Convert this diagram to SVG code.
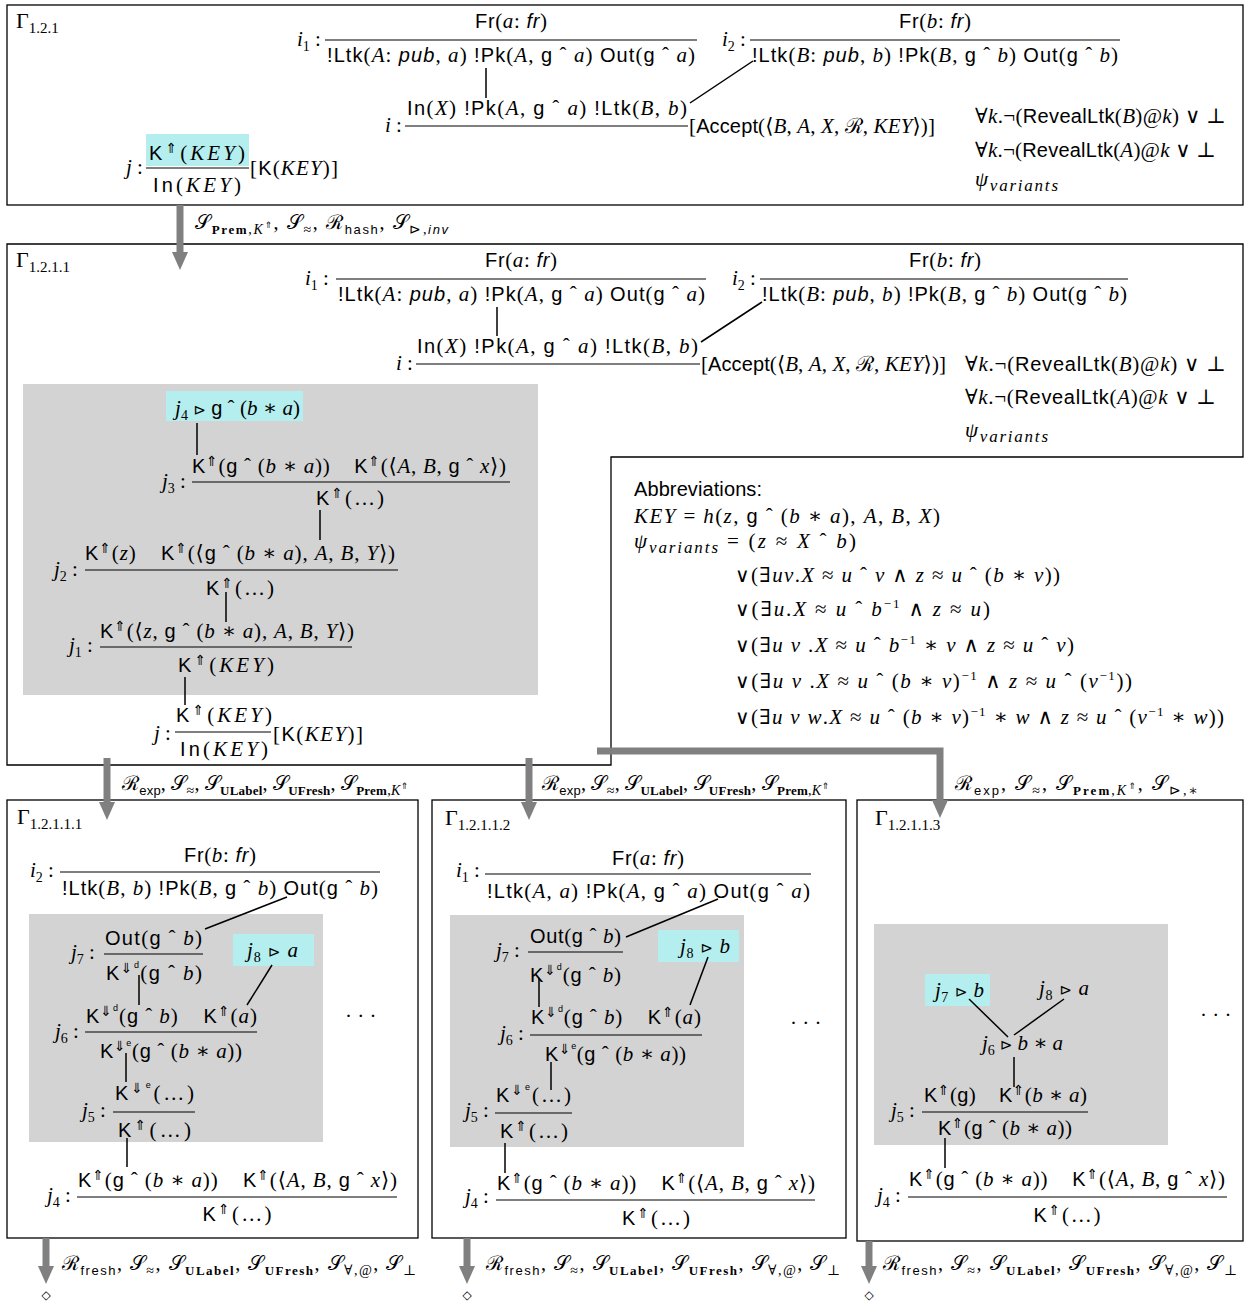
<svg xmlns="http://www.w3.org/2000/svg" width="1260" height="1302" viewBox="0 0 1260 1302">
<defs>
<style>
text{font-family:"Liberation Serif","DejaVu Serif",serif;font-size:21px;fill:#000}
.s{font-family:"Liberation Sans","DejaVu Sans",sans-serif;font-size:20px;font-style:normal}
.si{font-family:"Liberation Sans","DejaVu Sans",sans-serif;font-size:20px;font-style:italic}
.i{font-style:italic}
.g{font-size:22px}
.gsub{font-size:15px;baseline-shift:-5px}
.sub{font-size:14px;baseline-shift:-5px}
.subi{font-size:14px;baseline-shift:-5px;font-style:italic}
.vsub{font-size:17px;baseline-shift:-5px;font-style:italic}
.subs{font-family:"Liberation Sans",sans-serif;font-size:13px;baseline-shift:-5px}
.subsi{font-family:"Liberation Sans",sans-serif;font-size:13px;baseline-shift:-5px;font-style:italic}
.subb{font-size:13px;baseline-shift:-5px;font-weight:bold}
.subup{font-family:"DejaVu Sans",sans-serif;font-size:9px;baseline-shift:1px;fill:#000}
.up{font-family:"DejaVu Sans",sans-serif;font-size:14px;baseline-shift:7px;fill:#000}
.up2{font-family:"Liberation Sans",sans-serif;font-size:9px;baseline-shift:12px}
.sup{font-size:13px;baseline-shift:8px}
.tri{font-family:"DejaVu Sans",sans-serif;font-size:15px}
.dia{font-family:"DejaVu Sans",sans-serif;font-size:12px}
.lab{font-size:20px}
.frame{fill:none;stroke:#000;stroke-width:1.3}
.grey{fill:#d3d3d3}
.hl{fill:#b4eeee}
.bar{stroke:#000;stroke-width:1.2}
.edge{stroke:#000;stroke-width:1.5;fill:none}
.arr{stroke:#808080;stroke-width:7;fill:none}
</style>
<marker id="ah" markerUnits="userSpaceOnUse" markerWidth="18" markerHeight="16" viewBox="0 0 18 16" refX="2" refY="8" orient="auto"><path d="M0,0 L18,8 L0,16 z" fill="#808080"/></marker>
</defs>

<!-- ===== Top box ===== -->
<g id="gamma-1-2-1">
<rect class="frame" x="7" y="5" width="1236" height="200"/>
<text class="g" x="16" y="28">Γ<tspan class="gsub">1.2.1</tspan></text>
</g>
<g id="t-i1">
<text x="297" y="46"><tspan class="i">i</tspan><tspan class="sub">1</tspan> :</text>
<text x="511" y="28" text-anchor="middle" textLength="72"><tspan class="s">Fr</tspan>(<tspan class="i">a</tspan>:&#160;<tspan class="si">fr</tspan>)</text>
<line class="bar" x1="325" y1="40" x2="697" y2="40"/>
<text x="327" y="62" textLength="368"><tspan class="s">!Ltk</tspan>(<tspan class="i">A</tspan>:&#160;<tspan class="si">pub</tspan>, <tspan class="i">a</tspan>) <tspan class="s">!Pk</tspan>(<tspan class="i">A</tspan>, <tspan class="s">g</tspan> ˆ <tspan class="i">a</tspan>) <tspan class="s">Out</tspan>(<tspan class="s">g</tspan> ˆ <tspan class="i">a</tspan>)</text>
</g>
<g id="t-i2">
<text x="722" y="46"><tspan class="i">i</tspan><tspan class="sub">2</tspan> :</text>
<text x="935" y="28" text-anchor="middle" textLength="72"><tspan class="s">Fr</tspan>(<tspan class="i">b</tspan>:&#160;<tspan class="si">fr</tspan>)</text>
<line class="bar" x1="750" y1="40" x2="1120" y2="40"/>
<text x="752" y="62" textLength="366"><tspan class="s">!Ltk</tspan>(<tspan class="i">B</tspan>:&#160;<tspan class="si">pub</tspan>, <tspan class="i">b</tspan>) <tspan class="s">!Pk</tspan>(<tspan class="i">B</tspan>, <tspan class="s">g</tspan> ˆ <tspan class="i">b</tspan>) <tspan class="s">Out</tspan>(<tspan class="s">g</tspan> ˆ <tspan class="i">b</tspan>)</text>
</g>
<g id="t-i">
<text x="407" y="115" textLength="280"><tspan class="s">In</tspan>(<tspan class="i">X</tspan>) <tspan class="s">!Pk</tspan>(<tspan class="i">A</tspan>, <tspan class="s">g</tspan> ˆ <tspan class="i">a</tspan>) <tspan class="s">!Ltk</tspan>(<tspan class="i">B</tspan>, <tspan class="i">b</tspan>)</text>
<line class="bar" x1="405" y1="126" x2="688" y2="126"/>
<text x="385" y="132"><tspan class="i">i</tspan> :</text>
<text x="689" y="133" textLength="246">[<tspan class="s">Accept</tspan>(⟨<tspan class="i">B</tspan>, <tspan class="i">A</tspan>, <tspan class="i">X</tspan>, ℛ, <tspan class="i">KEY</tspan>⟩)]</text>
</g>
<g id="t-formulas">
<text x="975" y="123" textLength="251">∀<tspan class="i">k</tspan>.¬(<tspan class="s">RevealLtk</tspan>(<tspan class="i">B</tspan>)@<tspan class="i">k</tspan>) ∨ ⊥</text>
<text x="975" y="157" textLength="241">∀<tspan class="i">k</tspan>.¬(<tspan class="s">RevealLtk</tspan>(<tspan class="i">A</tspan>)@<tspan class="i">k</tspan> ∨ ⊥</text>
<text x="975" y="186" textLength="83"><tspan class="i">ψ</tspan><tspan class="vsub">variants</tspan></text>
</g>
<g id="t-j">
<rect class="hl" x="146" y="134" width="103" height="32"/>
<text x="197" y="160" text-anchor="middle" textLength="96"><tspan class="s">K</tspan><tspan class="up">⇑︎</tspan>(<tspan class="i">KEY</tspan>)</text>
<line class="bar" x1="146" y1="168" x2="249" y2="168"/>
<text x="197" y="192" text-anchor="middle" textLength="88"><tspan class="s">In</tspan>(<tspan class="i">KEY</tspan>)</text>
<text x="126" y="174"><tspan class="i">j</tspan> :</text>
<text x="250" y="175" textLength="88">[<tspan class="s">K</tspan>(<tspan class="i">KEY</tspan>)]</text>
</g>

<!-- ===== Middle box ===== -->
<g id="gamma-1-2-1-1">
<path class="frame" d="M7,244 H1243 V457 H611 V765 H7 Z"/>
<text class="g" x="16" y="267">Γ<tspan class="gsub">1.2.1.1</tspan></text>
</g>
<g id="m-i1">
<text x="305" y="285"><tspan class="i">i</tspan><tspan class="sub">1</tspan> :</text>
<text x="521" y="267" text-anchor="middle" textLength="72"><tspan class="s">Fr</tspan>(<tspan class="i">a</tspan>:&#160;<tspan class="si">fr</tspan>)</text>
<line class="bar" x1="336" y1="279" x2="706" y2="279"/>
<text x="338" y="301" textLength="367"><tspan class="s">!Ltk</tspan>(<tspan class="i">A</tspan>:&#160;<tspan class="si">pub</tspan>, <tspan class="i">a</tspan>) <tspan class="s">!Pk</tspan>(<tspan class="i">A</tspan>, <tspan class="s">g</tspan> ˆ <tspan class="i">a</tspan>) <tspan class="s">Out</tspan>(<tspan class="s">g</tspan> ˆ <tspan class="i">a</tspan>)</text>
</g>
<g id="m-i2">
<text x="732" y="285"><tspan class="i">i</tspan><tspan class="sub">2</tspan> :</text>
<text x="945" y="267" text-anchor="middle" textLength="72"><tspan class="s">Fr</tspan>(<tspan class="i">b</tspan>:&#160;<tspan class="si">fr</tspan>)</text>
<line class="bar" x1="760" y1="279" x2="1128" y2="279"/>
<text x="762" y="301" textLength="365"><tspan class="s">!Ltk</tspan>(<tspan class="i">B</tspan>:&#160;<tspan class="si">pub</tspan>, <tspan class="i">b</tspan>) <tspan class="s">!Pk</tspan>(<tspan class="i">B</tspan>, <tspan class="s">g</tspan> ˆ <tspan class="i">b</tspan>) <tspan class="s">Out</tspan>(<tspan class="s">g</tspan> ˆ <tspan class="i">b</tspan>)</text>
</g>
<g id="m-i">
<text x="417" y="353" textLength="281"><tspan class="s">In</tspan>(<tspan class="i">X</tspan>) <tspan class="s">!Pk</tspan>(<tspan class="i">A</tspan>, <tspan class="s">g</tspan> ˆ <tspan class="i">a</tspan>) <tspan class="s">!Ltk</tspan>(<tspan class="i">B</tspan>, <tspan class="i">b</tspan>)</text>
<line class="bar" x1="416" y1="364" x2="700" y2="364"/>
<text x="396" y="370"><tspan class="i">i</tspan> :</text>
<text x="701" y="371" textLength="245">[<tspan class="s">Accept</tspan>(⟨<tspan class="i">B</tspan>, <tspan class="i">A</tspan>, <tspan class="i">X</tspan>, ℛ, <tspan class="i">KEY</tspan>⟩)]</text>
</g>
<g id="m-formulas">
<text x="965" y="371" textLength="261">∀<tspan class="i">k</tspan>.¬(<tspan class="s">RevealLtk</tspan>(<tspan class="i">B</tspan>)@<tspan class="i">k</tspan>) ∨ ⊥</text>
<text x="965" y="404" textLength="251">∀<tspan class="i">k</tspan>.¬(<tspan class="s">RevealLtk</tspan>(<tspan class="i">A</tspan>)@<tspan class="i">k</tspan> ∨ ⊥</text>
<text x="965" y="437" textLength="83"><tspan class="i">ψ</tspan><tspan class="vsub">variants</tspan></text>
</g>
<g id="m-cluster">
<rect class="grey" x="23" y="384" width="515" height="311"/>
</g>
<g id="m-j4">
<rect class="hl" x="166" y="391" width="137" height="30"/>
<text x="175" y="415" textLength="125"><tspan class="i">j</tspan><tspan class="sub">4</tspan> <tspan class="tri">⊳</tspan> <tspan class="s">g</tspan> ˆ (<tspan class="i">b</tspan> ∗ <tspan class="i">a</tspan>)</text>
</g>
<g id="m-j3">
<text x="162" y="488"><tspan class="i">j</tspan><tspan class="sub">3</tspan> :</text>
<text x="192" y="473" textLength="314"><tspan class="s">K</tspan><tspan class="up">⇑︎</tspan>(<tspan class="s">g</tspan> ˆ (<tspan class="i">b</tspan> ∗ <tspan class="i">a</tspan>))&#160;&#160;&#160;&#160;<tspan class="s">K</tspan><tspan class="up">⇑︎</tspan>(⟨<tspan class="i">A</tspan>, <tspan class="i">B</tspan>, <tspan class="s">g</tspan> ˆ <tspan class="i">x</tspan>⟩)</text>
<line class="bar" x1="192" y1="482" x2="510" y2="482"/>
<text x="350" y="505" text-anchor="middle" textLength="68"><tspan class="s">K</tspan><tspan class="up">⇑︎</tspan>(…)</text>
</g>
<g id="m-j2">
<text x="54" y="576"><tspan class="i">j</tspan><tspan class="sub">2</tspan> :</text>
<text x="85" y="560" textLength="310"><tspan class="s">K</tspan><tspan class="up">⇑︎</tspan>(<tspan class="i">z</tspan>)&#160;&#160;&#160;&#160;<tspan class="s">K</tspan><tspan class="up">⇑︎</tspan>(⟨<tspan class="s">g</tspan> ˆ (<tspan class="i">b</tspan> ∗ <tspan class="i">a</tspan>), <tspan class="i">A</tspan>, <tspan class="i">B</tspan>, <tspan class="i">Y</tspan>⟩)</text>
<line class="bar" x1="85" y1="570" x2="398" y2="570"/>
<text x="240" y="595" text-anchor="middle" textLength="68"><tspan class="s">K</tspan><tspan class="up">⇑︎</tspan>(…)</text>
</g>
<g id="m-j1">
<text x="69" y="652"><tspan class="i">j</tspan><tspan class="sub">1</tspan> :</text>
<text x="100" y="638" textLength="254"><tspan class="s">K</tspan><tspan class="up">⇑︎</tspan>(⟨<tspan class="i">z</tspan>, <tspan class="s">g</tspan> ˆ (<tspan class="i">b</tspan> ∗ <tspan class="i">a</tspan>), <tspan class="i">A</tspan>, <tspan class="i">B</tspan>, <tspan class="i">Y</tspan>⟩)</text>
<line class="bar" x1="100" y1="647" x2="352" y2="647"/>
<text x="226" y="672" text-anchor="middle" textLength="96"><tspan class="s">K</tspan><tspan class="up">⇑︎</tspan>(<tspan class="i">KEY</tspan>)</text>
</g>
<g id="m-j">
<text x="224" y="722" text-anchor="middle" textLength="96"><tspan class="s">K</tspan><tspan class="up">⇑︎</tspan>(<tspan class="i">KEY</tspan>)</text>
<line class="bar" x1="175" y1="732" x2="271" y2="732"/>
<text x="224" y="756" text-anchor="middle" textLength="88"><tspan class="s">In</tspan>(<tspan class="i">KEY</tspan>)</text>
<text x="154" y="740"><tspan class="i">j</tspan> :</text>
<text x="273" y="741" textLength="90">[<tspan class="s">K</tspan>(<tspan class="i">KEY</tspan>)]</text>
</g>

<!-- ===== Abbreviations ===== -->
<g id="abbreviations">
<text x="634" y="496" class="s" textLength="128">Abbreviations:</text>
<text x="634" y="523" textLength="306"><tspan class="i">KEY</tspan> = <tspan class="i">h</tspan>(<tspan class="i">z</tspan>, <tspan class="s">g</tspan> ˆ (<tspan class="i">b</tspan> ∗ <tspan class="i">a</tspan>), <tspan class="i">A</tspan>, <tspan class="i">B</tspan>, <tspan class="i">X</tspan>)</text>
<text x="634" y="548" textLength="84"><tspan class="i">ψ</tspan><tspan class="vsub">variants</tspan></text>
<text x="727" y="548" textLength="129">= (<tspan class="i">z</tspan> ≈ <tspan class="i">X</tspan> ˆ <tspan class="i">b</tspan>)</text>
<text x="735" y="582" textLength="325"><tspan class="s">∨</tspan>(∃<tspan class="i">uv</tspan>.<tspan class="i">X</tspan> ≈ <tspan class="i">u</tspan> ˆ <tspan class="i">v</tspan> ∧ <tspan class="i">z</tspan> ≈ <tspan class="i">u</tspan> ˆ (<tspan class="i">b</tspan> ∗ <tspan class="i">v</tspan>))</text>
<text x="735" y="616" textLength="255"><tspan class="s">∨</tspan>(∃<tspan class="i">u</tspan>.<tspan class="i">X</tspan> ≈ <tspan class="i">u</tspan> ˆ <tspan class="i">b</tspan><tspan class="sup">−1</tspan> ∧ <tspan class="i">z</tspan> ≈ <tspan class="i">u</tspan>)</text>
<text x="735" y="652" textLength="339"><tspan class="s">∨</tspan>(∃<tspan class="i">u v</tspan> .<tspan class="i">X</tspan> ≈ <tspan class="i">u</tspan> ˆ <tspan class="i">b</tspan><tspan class="sup">−1</tspan> ∗ <tspan class="i">v</tspan> ∧ <tspan class="i">z</tspan> ≈ <tspan class="i">u</tspan> ˆ <tspan class="i">v</tspan>)</text>
<text x="735" y="688" textLength="397"><tspan class="s">∨</tspan>(∃<tspan class="i">u v</tspan> .<tspan class="i">X</tspan> ≈ <tspan class="i">u</tspan> ˆ (<tspan class="i">b</tspan> ∗ <tspan class="i">v</tspan>)<tspan class="sup">−1</tspan> ∧ <tspan class="i">z</tspan> ≈ <tspan class="i">u</tspan> ˆ (<tspan class="i">v</tspan><tspan class="sup">−1</tspan>))</text>
<text x="735" y="724" textLength="489"><tspan class="s">∨</tspan>(∃<tspan class="i">u v w</tspan>.<tspan class="i">X</tspan> ≈ <tspan class="i">u</tspan> ˆ (<tspan class="i">b</tspan> ∗ <tspan class="i">v</tspan>)<tspan class="sup">−1</tspan> ∗ <tspan class="i">w</tspan> ∧ <tspan class="i">z</tspan> ≈ <tspan class="i">u</tspan> ˆ (<tspan class="i">v</tspan><tspan class="sup">−1</tspan> ∗ <tspan class="i">w</tspan>))</text>
</g>

<!-- ===== Box 1.2.1.1.1 ===== -->
<g id="gamma-1-2-1-1-1">
<rect class="frame" x="7" y="800" width="411" height="438"/>
<text class="g" x="17" y="824">Γ<tspan class="gsub">1.2.1.1.1</tspan></text>
<rect class="grey" x="29" y="914" width="294" height="228"/>
<text x="345" y="1023">· · ·</text>
</g>
<g id="b1-i2">
<text x="30" y="877"><tspan class="i">i</tspan><tspan class="sub">2</tspan> :</text>
<text x="220" y="862" text-anchor="middle" textLength="72"><tspan class="s">Fr</tspan>(<tspan class="i">b</tspan>:&#160;<tspan class="si">fr</tspan>)</text>
<line class="bar" x1="60" y1="872" x2="380" y2="872"/>
<text x="62" y="895" textLength="316"><tspan class="s">!Ltk</tspan>(<tspan class="i">B</tspan>, <tspan class="i">b</tspan>) <tspan class="s">!Pk</tspan>(<tspan class="i">B</tspan>, <tspan class="s">g</tspan> ˆ <tspan class="i">b</tspan>) <tspan class="s">Out</tspan>(<tspan class="s">g</tspan> ˆ <tspan class="i">b</tspan>)</text>
</g>
<g id="b1-j7">
<text x="71" y="959"><tspan class="i">j</tspan><tspan class="sub">7</tspan> :</text>
<text x="105" y="945" textLength="97"><tspan class="s">Out</tspan>(<tspan class="s">g</tspan> ˆ <tspan class="i">b</tspan>)</text>
<line class="bar" x1="104" y1="954" x2="203" y2="954"/>
<text x="106" y="980" textLength="96"><tspan class="s">K</tspan><tspan class="up">⇓︎</tspan><tspan class="up2">d</tspan>(<tspan class="s">g</tspan> ˆ <tspan class="i">b</tspan>)</text>
</g>
<g id="b1-j8">
<rect class="hl" x="233" y="934" width="81" height="32"/>
<text x="247" y="957" textLength="51"><tspan class="i">j</tspan><tspan class="sub">8</tspan> <tspan class="tri">⊳</tspan> <tspan class="i">a</tspan></text>
</g>
<g id="b1-j6">
<text x="55" y="1038"><tspan class="i">j</tspan><tspan class="sub">6</tspan> :</text>
<text x="86" y="1023" textLength="171"><tspan class="s">K</tspan><tspan class="up">⇓︎</tspan><tspan class="up2">d</tspan>(<tspan class="s">g</tspan> ˆ <tspan class="i">b</tspan>)&#160;&#160;&#160;&#160;<tspan class="s">K</tspan><tspan class="up">⇑︎</tspan>(<tspan class="i">a</tspan>)</text>
<line class="bar" x1="85" y1="1032" x2="257" y2="1032"/>
<text x="100" y="1058" textLength="142"><tspan class="s">K</tspan><tspan class="up">⇓︎</tspan><tspan class="up2">e</tspan>(<tspan class="s">g</tspan> ˆ (<tspan class="i">b</tspan> ∗ <tspan class="i">a</tspan>))</text>
</g>
<g id="b1-j5">
<text x="82" y="1117"><tspan class="i">j</tspan><tspan class="sub">5</tspan> :</text>
<text x="115" y="1100" textLength="79"><tspan class="s">K</tspan><tspan class="up">⇓︎</tspan><tspan class="up2">e</tspan>(…)</text>
<line class="bar" x1="113" y1="1112" x2="195" y2="1112"/>
<text x="118" y="1137" textLength="73"><tspan class="s">K</tspan><tspan class="up">⇑︎</tspan>(…)</text>
</g>
<g id="b1-j4">
<text x="47" y="1202"><tspan class="i">j</tspan><tspan class="sub">4</tspan> :</text>
<text x="78" y="1187" textLength="319"><tspan class="s">K</tspan><tspan class="up">⇑︎</tspan>(<tspan class="s">g</tspan> ˆ (<tspan class="i">b</tspan> ∗ <tspan class="i">a</tspan>))&#160;&#160;&#160;&#160;<tspan class="s">K</tspan><tspan class="up">⇑︎</tspan>(⟨<tspan class="i">A</tspan>, <tspan class="i">B</tspan>, <tspan class="s">g</tspan> ˆ <tspan class="i">x</tspan>⟩)</text>
<line class="bar" x1="77" y1="1197" x2="397" y2="1197"/>
<text x="237" y="1221" text-anchor="middle" textLength="69"><tspan class="s">K</tspan><tspan class="up">⇑︎</tspan>(…)</text>
</g>

<!-- ===== Box 1.2.1.1.2 ===== -->
<g id="gamma-1-2-1-1-2">
<rect class="frame" x="432" y="800" width="414" height="438"/>
<text class="g" x="445" y="825">Γ<tspan class="gsub">1.2.1.1.2</tspan></text>
<rect class="grey" x="450" y="915" width="294" height="232"/>
<text x="790" y="1030">· · ·</text>
</g>
<g id="b2-i1">
<text x="456" y="877"><tspan class="i">i</tspan><tspan class="sub">1</tspan> :</text>
<text x="648" y="865" text-anchor="middle" textLength="72"><tspan class="s">Fr</tspan>(<tspan class="i">a</tspan>:&#160;<tspan class="si">fr</tspan>)</text>
<line class="bar" x1="485" y1="874" x2="811" y2="874"/>
<text x="487" y="898" textLength="323"><tspan class="s">!Ltk</tspan>(<tspan class="i">A</tspan>, <tspan class="i">a</tspan>) <tspan class="s">!Pk</tspan>(<tspan class="i">A</tspan>, <tspan class="s">g</tspan> ˆ <tspan class="i">a</tspan>) <tspan class="s">Out</tspan>(<tspan class="s">g</tspan> ˆ <tspan class="i">a</tspan>)</text>
</g>
<g id="b2-j7">
<text x="496" y="957"><tspan class="i">j</tspan><tspan class="sub">7</tspan> :</text>
<text x="530" y="943" textLength="91"><tspan class="s">Out</tspan>(<tspan class="s">g</tspan> ˆ <tspan class="i">b</tspan>)</text>
<line class="bar" x1="528" y1="952" x2="623" y2="952"/>
<text x="530" y="982" textLength="91"><tspan class="s">K</tspan><tspan class="up">⇓︎</tspan><tspan class="up2">d</tspan>(<tspan class="s">g</tspan> ˆ <tspan class="i">b</tspan>)</text>
</g>
<g id="b2-j8">
<rect class="hl" x="658" y="930" width="81" height="32"/>
<text x="680" y="953" textLength="50"><tspan class="i">j</tspan><tspan class="sub">8</tspan> <tspan class="tri">⊳</tspan> <tspan class="i">b</tspan></text>
</g>
<g id="b2-j6">
<text x="500" y="1040"><tspan class="i">j</tspan><tspan class="sub">6</tspan> :</text>
<text x="531" y="1024" textLength="170"><tspan class="s">K</tspan><tspan class="up">⇓︎</tspan><tspan class="up2">d</tspan>(<tspan class="s">g</tspan> ˆ <tspan class="i">b</tspan>)&#160;&#160;&#160;&#160;<tspan class="s">K</tspan><tspan class="up">⇑︎</tspan>(<tspan class="i">a</tspan>)</text>
<line class="bar" x1="530" y1="1035" x2="702" y2="1035"/>
<text x="545" y="1061" textLength="141"><tspan class="s">K</tspan><tspan class="up">⇓︎</tspan><tspan class="up2">e</tspan>(<tspan class="s">g</tspan> ˆ (<tspan class="i">b</tspan> ∗ <tspan class="i">a</tspan>))</text>
</g>
<g id="b2-j5">
<text x="465" y="1117"><tspan class="i">j</tspan><tspan class="sub">5</tspan> :</text>
<text x="496" y="1102" textLength="75"><tspan class="s">K</tspan><tspan class="up">⇓︎</tspan><tspan class="up2">e</tspan>(…)</text>
<line class="bar" x1="495" y1="1113" x2="572" y2="1113"/>
<text x="500" y="1138" textLength="68"><tspan class="s">K</tspan><tspan class="up">⇑︎</tspan>(…)</text>
</g>
<g id="b2-j4">
<text x="465" y="1203"><tspan class="i">j</tspan><tspan class="sub">4</tspan> :</text>
<text x="497" y="1190" textLength="318"><tspan class="s">K</tspan><tspan class="up">⇑︎</tspan>(<tspan class="s">g</tspan> ˆ (<tspan class="i">b</tspan> ∗ <tspan class="i">a</tspan>))&#160;&#160;&#160;&#160;<tspan class="s">K</tspan><tspan class="up">⇑︎</tspan>(⟨<tspan class="i">A</tspan>, <tspan class="i">B</tspan>, <tspan class="s">g</tspan> ˆ <tspan class="i">x</tspan>⟩)</text>
<line class="bar" x1="496" y1="1200" x2="815" y2="1200"/>
<text x="656" y="1225" text-anchor="middle" textLength="68"><tspan class="s">K</tspan><tspan class="up">⇑︎</tspan>(…)</text>
</g>

<!-- ===== Box 1.2.1.1.3 ===== -->
<g id="gamma-1-2-1-1-3">
<rect class="frame" x="857" y="800" width="386" height="441"/>
<text class="g" x="875" y="825">Γ<tspan class="gsub">1.2.1.1.3</tspan></text>
<rect class="grey" x="874" y="924" width="294" height="221"/>
<text x="1200" y="1022">· · ·</text>
</g>
<g id="b3-j7">
<rect class="hl" x="925" y="974" width="65" height="32"/>
<text x="935" y="997" textLength="49"><tspan class="i">j</tspan><tspan class="sub">7</tspan> <tspan class="tri">⊳</tspan> <tspan class="i">b</tspan></text>
</g>
<g id="b3-j8">
<text x="1039" y="995" textLength="50"><tspan class="i">j</tspan><tspan class="sub">8</tspan> <tspan class="tri">⊳</tspan> <tspan class="i">a</tspan></text>
</g>
<g id="b3-j6">
<text x="982" y="1050" textLength="81"><tspan class="i">j</tspan><tspan class="sub">6</tspan> <tspan class="tri">⊳</tspan> <tspan class="i">b</tspan> ∗ <tspan class="i">a</tspan></text>
</g>
<g id="b3-j5">
<text x="891" y="1117"><tspan class="i">j</tspan><tspan class="sub">5</tspan> :</text>
<text x="924" y="1102" textLength="163"><tspan class="s">K</tspan><tspan class="up">⇑︎</tspan>(<tspan class="s">g</tspan>)&#160;&#160;&#160;&#160;<tspan class="s">K</tspan><tspan class="up">⇑︎</tspan>(<tspan class="i">b</tspan> ∗ <tspan class="i">a</tspan>)</text>
<line class="bar" x1="922" y1="1112" x2="1088" y2="1112"/>
<text x="938" y="1135" textLength="134"><tspan class="s">K</tspan><tspan class="up">⇑︎</tspan>(<tspan class="s">g</tspan> ˆ (<tspan class="i">b</tspan> ∗ <tspan class="i">a</tspan>))</text>
</g>
<g id="b3-j4">
<text x="877" y="1202"><tspan class="i">j</tspan><tspan class="sub">4</tspan> :</text>
<text x="909" y="1186" textLength="316"><tspan class="s">K</tspan><tspan class="up">⇑︎</tspan>(<tspan class="s">g</tspan> ˆ (<tspan class="i">b</tspan> ∗ <tspan class="i">a</tspan>))&#160;&#160;&#160;&#160;<tspan class="s">K</tspan><tspan class="up">⇑︎</tspan>(⟨<tspan class="i">A</tspan>, <tspan class="i">B</tspan>, <tspan class="s">g</tspan> ˆ <tspan class="i">x</tspan>⟩)</text>
<line class="bar" x1="908" y1="1197" x2="1227" y2="1197"/>
<text x="1067" y="1222" text-anchor="middle" textLength="67"><tspan class="s">K</tspan><tspan class="up">⇑︎</tspan>(…)</text>
</g>

<!-- ===== End states ===== -->
<g id="end-1"><text class="dia" x="46" y="1299" text-anchor="middle">◇</text></g>
<g id="end-2"><text class="dia" x="467" y="1299" text-anchor="middle">◇</text></g>
<g id="end-3"><text class="dia" x="869" y="1299" text-anchor="middle">◇</text></g>

<!-- ===== Connectors ===== -->
<g id="connectors">
<line class="edge" x1="486" y1="68" x2="486" y2="98"/>
<line class="edge" x1="690" y1="103" x2="753" y2="61"/>
<line class="edge" x1="497" y1="307" x2="497" y2="336"/>
<line class="edge" x1="701" y1="342" x2="762" y2="302"/>
<line class="edge" x1="197" y1="423" x2="197" y2="455"/>
<line class="edge" x1="320" y1="510" x2="320" y2="540"/>
<line class="edge" x1="226" y1="592" x2="226" y2="622"/>
<line class="edge" x1="185" y1="677" x2="185" y2="705"/>
<line class="edge" x1="287" y1="897" x2="205" y2="929"/>
<line class="edge" x1="272" y1="965" x2="247" y2="1005"/>
<line class="edge" x1="139" y1="975" x2="139" y2="1005"/>
<line class="edge" x1="126" y1="1053" x2="126" y2="1082"/>
<line class="edge" x1="127" y1="1138" x2="127" y2="1167"/>
<line class="edge" x1="718" y1="899" x2="626" y2="937"/>
<line class="edge" x1="708" y1="957" x2="690" y2="1005"/>
<line class="edge" x1="539" y1="978" x2="539" y2="1007"/>
<line class="edge" x1="551" y1="1062" x2="551" y2="1090"/>
<line class="edge" x1="505" y1="1143" x2="505" y2="1173"/>
<line class="edge" x1="969" y1="999" x2="1008" y2="1037"/>
<line class="edge" x1="1064" y1="999" x2="1014" y2="1035"/>
<line class="edge" x1="1014" y1="1057" x2="1014" y2="1087"/>
<line class="edge" x1="945" y1="1138" x2="945" y2="1168"/>

<path class="arr" d="M180,205 V254" marker-end="url(#ah)"/>
<path class="arr" d="M107,758 V804" marker-end="url(#ah)"/>
<path class="arr" d="M529,758 V804" marker-end="url(#ah)"/>
<path class="arr" d="M597,751 H940 V802" marker-end="url(#ah)"/>
<path class="arr" d="M46,1238 V1268" marker-end="url(#ah)"/>
<path class="arr" d="M467,1238 V1268" marker-end="url(#ah)"/>
<path class="arr" d="M869,1241 V1268" marker-end="url(#ah)"/>

<text class="lab" x="195" y="229" textLength="253">𝒮<tspan class="subb">Prem</tspan><tspan class="sub">,</tspan><tspan class="subi">K</tspan><tspan class="subup">⇑︎</tspan>, 𝒮<tspan class="sub">≈</tspan>, ℛ<tspan class="subs">hash</tspan>, 𝒮<tspan class="sub">⊳,</tspan><tspan class="subsi">inv</tspan></text>
<text class="lab" x="122" y="790" textLength="286">ℛ<tspan class="subs">exp</tspan>, 𝒮<tspan class="sub">≈</tspan>, 𝒮<tspan class="subb">ULabel</tspan>, 𝒮<tspan class="subb">UFresh</tspan>, 𝒮<tspan class="subb">Prem</tspan><tspan class="sub">,</tspan><tspan class="subi">K</tspan><tspan class="subup">⇑︎</tspan></text>
<text class="lab" x="542" y="790" textLength="287">ℛ<tspan class="subs">exp</tspan>, 𝒮<tspan class="sub">≈</tspan>, 𝒮<tspan class="subb">ULabel</tspan>, 𝒮<tspan class="subb">UFresh</tspan>, 𝒮<tspan class="subb">Prem</tspan><tspan class="sub">,</tspan><tspan class="subi">K</tspan><tspan class="subup">⇑︎</tspan></text>
<text class="lab" x="955" y="790" textLength="243">ℛ<tspan class="subs">exp</tspan>, 𝒮<tspan class="sub">≈</tspan>, 𝒮<tspan class="subb">Prem</tspan><tspan class="sub">,</tspan><tspan class="subi">K</tspan><tspan class="subup">⇑︎</tspan>, 𝒮<tspan class="sub">⊳,∗</tspan></text>
<text class="lab" x="62" y="1270" textLength="354">ℛ<tspan class="subs">fresh</tspan>, 𝒮<tspan class="sub">≈</tspan>, 𝒮<tspan class="subb">ULabel</tspan>, 𝒮<tspan class="subb">UFresh</tspan>, 𝒮<tspan class="sub">∀,@</tspan>, 𝒮<tspan class="sub">⊥</tspan></text>
<text class="lab" x="486" y="1270" textLength="354">ℛ<tspan class="subs">fresh</tspan>, 𝒮<tspan class="sub">≈</tspan>, 𝒮<tspan class="subb">ULabel</tspan>, 𝒮<tspan class="subb">UFresh</tspan>, 𝒮<tspan class="sub">∀,@</tspan>, 𝒮<tspan class="sub">⊥</tspan></text>
<text class="lab" x="883" y="1270" textLength="354">ℛ<tspan class="subs">fresh</tspan>, 𝒮<tspan class="sub">≈</tspan>, 𝒮<tspan class="subb">ULabel</tspan>, 𝒮<tspan class="subb">UFresh</tspan>, 𝒮<tspan class="sub">∀,@</tspan>, 𝒮<tspan class="sub">⊥</tspan></text>
</g>
</svg>
